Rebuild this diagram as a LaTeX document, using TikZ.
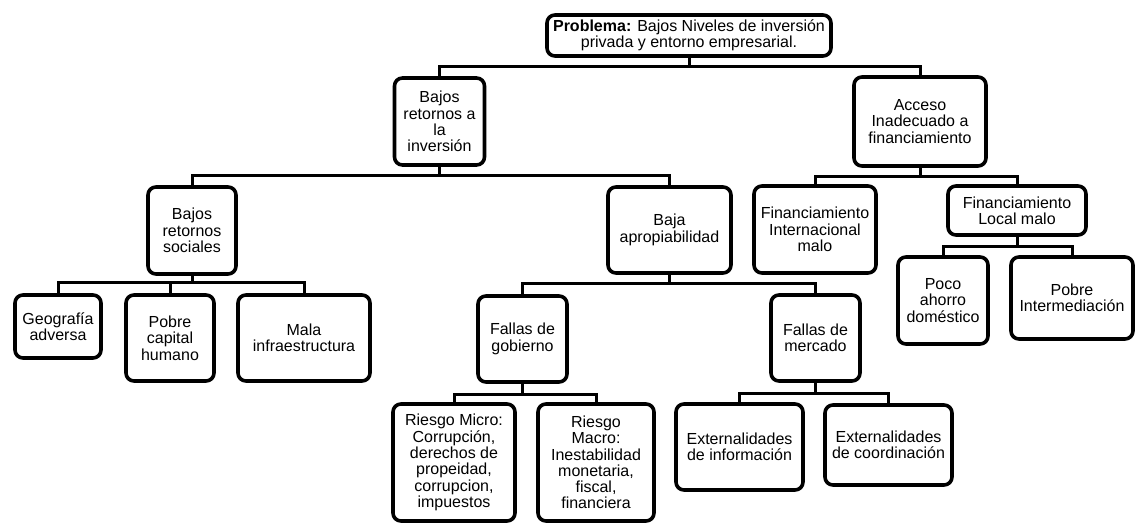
\documentclass[tikz,border=0pt]{standalone}
\usepackage{fontspec}
\setmainfont{Liberation Sans}
\tikzset{
  box/.style={draw, line width=3.6pt, rounded corners=8pt, align=center, inner sep=0pt, fill=white, font=\fontsize{16}{16.3}\selectfont},
  link/.style={line width=3pt}
}
\begin{document}
\begin{tikzpicture}[x=1pt,y=-1pt]
\useasboundingbox (0,0) rectangle (1136,527);
% main problem
\node[box, minimum width=284pt, minimum height=41pt] (top) at (689,35.5) {\textbf{Problema:} Bajos Niveles de inversión\\privada y entorno empresarial.};
% second level
\node[box, minimum width=90pt, minimum height=87pt] (bri) at (439.5,121.5) {Bajos\\retornos a\\la\\inversión};
\node[box, minimum width=132pt, minimum height=89pt] (acc) at (920,121.5) {Acceso\\Inadecuado a\\financiamiento};
% third level
\node[box, minimum width=88pt, minimum height=87pt] (brs) at (192,230.5) {Bajos\\retornos\\sociales};
\node[box, minimum width=123pt, minimum height=86pt] (baja) at (669.5,230) {Baja\\apropiabilidad};
\node[box, minimum width=122pt, minimum height=87pt] (fint) at (815,229.5) {Financiamiento\\Internacional\\malo};
\node[box, minimum width=138pt, minimum height=49pt] (floc) at (1017,210.5) {Financiamiento\\Local malo};
% fourth level
\node[box, minimum width=86pt, minimum height=63pt] (geo) at (58,326.5) {Geografía\\adversa};
\node[box, minimum width=88pt, minimum height=86pt] (pobre) at (170,338) {Pobre\\capital\\humano};
\node[box, minimum width=132pt, minimum height=86pt] (mala) at (304,338) {Mala\\infraestructura};
\node[box, minimum width=89pt, minimum height=86pt] (fgob) at (522.5,339) {Fallas de\\gobierno};
\node[box, minimum width=89pt, minimum height=86pt] (fmer) at (815.5,338) {Fallas de\\mercado};
\node[box, minimum width=90pt, minimum height=87pt] (poco) at (943,300.5) {Poco\\ahorro\\doméstico};
\node[box, minimum width=122pt, minimum height=82pt] (pint) at (1072,298) {Pobre\\Intermediación};
% fifth level
\node[box, minimum width=122pt, minimum height=117pt] (rmic) at (454,462.5) {Riesgo Micro:\\Corrupción,\\derechos de\\propeidad,\\corrupcion,\\impuestos};
\node[box, minimum width=116pt, minimum height=117pt] (rmac) at (596,462.5) {Riesgo\\Macro:\\Inestabilidad\\monetaria,\\fiscal,\\financiera};
\node[box, minimum width=127pt, minimum height=86pt] (einf) at (739.5,447) {Externalidades\\de información};
\node[box, minimum width=127pt, minimum height=80pt] (ecoo) at (888.5,445) {Externalidades\\de coordinación};
% links
\draw[link] (top.south) -- ++(0,9) -| (bri.north); \draw[link] (top.south) -- ++(0,9) -| (acc.north);
\draw[link] (bri.south) -- ++(0,9) -| (brs.north); \draw[link] (bri.south) -- ++(0,9) -| (baja.north);
\draw[link] (brs.south) -- ++(0,7) -| (geo.north); \draw[link] (brs.south) -- ++(0,7) -| (pobre.north);
\draw[link] (brs.south) -- ++(0,7) -| (mala.north);
\draw[link] (baja.south) -- ++(0,9) -| (fgob.north); \draw[link] (baja.south) -- ++(0,9) -| (fmer.north);
\draw[link] (fgob.south) -- ++(0,11) -| (rmic.north); \draw[link] (fgob.south) -- ++(0,11) -| (rmac.north);
\draw[link] (fmer.south) -- ++(0,11) -| (einf.north); \draw[link] (fmer.south) -- ++(0,11) -| (ecoo.north);
\draw[link] (acc.south) -- ++(0,9) -| (fint.north); \draw[link] (acc.south) -- ++(0,9) -| (floc.north);
\draw[link] (floc.south) -- ++(0,10) -| (poco.north); \draw[link] (floc.south) -- ++(0,10) -| (pint.north);
\end{tikzpicture}
\end{document}
